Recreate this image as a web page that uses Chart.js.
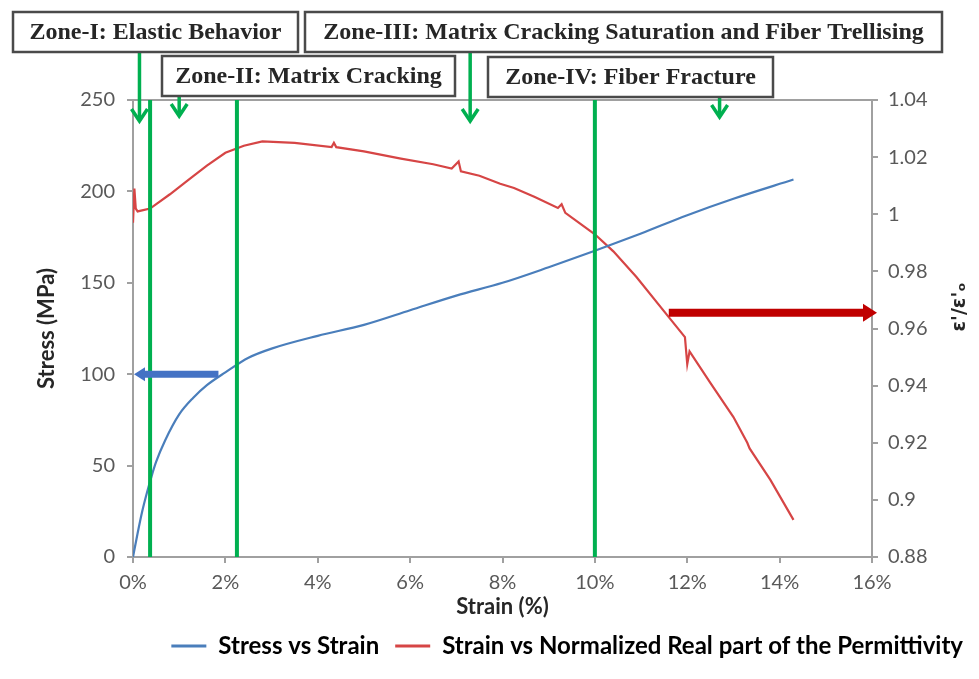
<!DOCTYPE html>
<html><head><meta charset="utf-8">
<script src="https://cdn.jsdelivr.net/npm/chart.js@4.4.0/dist/chart.umd.min.js"></script>
<style>html,body{margin:0;padding:0;background:#fff;}</style>
</head><body>
<canvas id="c" width="979" height="679" style="width:979px;height:679px;display:block"></canvas>
<script>
// ---- data ----
const stressStrain = [0, 0.1, 0.2, 0.3, 0.4, 0.5, 0.7, 1.0, 1.3, 1.6, 2.0, 2.5, 3.0, 4.0, 5.0, 6.0, 7.0, 8.0, 9.0, 10.0, 11.0, 12.0, 13.0, 14.3];
const stressValues = [0, 13, 25, 35, 44, 52, 64, 78, 87, 94, 101, 109, 114, 121, 127, 135, 143, 150, 158.5, 167.5, 177, 187, 196, 206.5];
const permStrain = [0, 0.03, 0.06, 0.1, 0.37, 0.8, 1.2, 1.6, 2.0, 2.4, 2.8, 3.5, 4.3, 4.35, 4.4, 5.0, 5.8, 6.5, 6.9, 7.05, 7.1, 7.5, 7.95, 8.25, 8.7, 9.2, 9.28, 9.36, 10.0, 10.4, 10.9, 11.6, 11.95, 12.0, 12.05, 12.5, 13.0, 13.3, 13.35, 13.8, 14.3];
const permValues = [0.997, 1.009, 1.002, 1.001, 1.002, 1.007, 1.012, 1.017, 1.0215, 1.024, 1.0255, 1.025, 1.0235, 1.025, 1.0235, 1.022, 1.0195, 1.0175, 1.016, 1.0185, 1.015, 1.0135, 1.0107, 1.0092, 1.006, 1.0022, 1.0035, 1.0005, 0.993, 0.987, 0.978, 0.964, 0.957, 0.9475, 0.952, 0.941, 0.929, 0.920, 0.918, 0.907, 0.893];
const seriesNames = ['Stress vs Strain', 'Strain vs Normalized Real part of the Permittivity'];
const xTickValues = [0, 2, 4, 6, 8, 10, 12, 14, 16];
const stressTickValues = [0, 50, 100, 150, 200, 250];
const permTickValues = [0.88, 0.9, 0.92, 0.94, 0.96, 0.98, 1, 1.02, 1.04];
const zoneBoundaries = [0.37, 2.25, 10.0];
const zoneLabels = ['Zone-I: Elastic Behavior', 'Zone-II: Matrix Cracking', 'Zone-III: Matrix Cracking Saturation and Fiber Trellising', 'Zone-IV: Fiber Fracture'];
const zoneArrowStrain = [0.14, 1.0, 7.3, 12.7];
const stressArrow = {value: 100, from: 0, to: 1.85};
const permArrow = {value: 0.9655, from: 11.6};
const rightAxisTitle = 'ε\'/ε\'ₒ';

// ---- layout (pixels) ----
const zoneBoxes = [[13, 12, 285, 40], [162, 56, 293, 40], [305, 12, 637, 40], [488, 57, 285, 40]];
const zoneArrowY = [[53, 121], [97, 116], [53, 121], [97, 117]];
const GREEN = '#00b050';
const AXIS = '#a0a0a0';
const TICKC = '#595959';

function vArrow(ctx, x, y0, y1) {
  ctx.beginPath(); ctx.moveTo(x, y0); ctx.lineTo(x, y1 - 2); ctx.stroke();
  ctx.beginPath(); ctx.moveTo(x - 8, y1 - 12); ctx.lineTo(x, y1); ctx.lineTo(x + 8, y1 - 12); ctx.stroke();
}

const zonePlugin = {
  id: 'zones',
  afterDatasetsDraw(chart) {
    const {ctx, chartArea: a, scales} = chart;
    const x = scales.x, y = scales.y, y1 = scales.y1;
    ctx.save();
    ctx.strokeStyle = AXIS; ctx.lineWidth = 2;
    ctx.beginPath(); ctx.moveTo(a.left, a.top); ctx.lineTo(a.right, a.top); ctx.stroke();
    ctx.strokeStyle = GREEN; ctx.lineWidth = 4;
    zoneBoundaries.forEach(v => {
      const px = x.getPixelForValue(v);
      ctx.beginPath(); ctx.moveTo(px, a.top); ctx.lineTo(px, a.bottom); ctx.stroke();
    });
    // blue arrow
    const by = y.getPixelForValue(stressArrow.value);
    const bx0 = x.getPixelForValue(stressArrow.from), bx1 = x.getPixelForValue(stressArrow.to);
    ctx.strokeStyle = '#4472c4'; ctx.fillStyle = '#4472c4'; ctx.lineWidth = 7;
    ctx.beginPath(); ctx.moveTo(bx0 + 8, by); ctx.lineTo(bx1, by); ctx.stroke();
    ctx.beginPath(); ctx.moveTo(bx0 + 1, by); ctx.lineTo(bx0 + 12, by - 7); ctx.lineTo(bx0 + 12, by + 7); ctx.closePath(); ctx.fill();
    // red arrow
    const ry = y1.getPixelForValue(permArrow.value);
    const rx0 = x.getPixelForValue(permArrow.from), rx1 = a.right + 5;
    ctx.strokeStyle = '#c00000'; ctx.fillStyle = '#c00000'; ctx.lineWidth = 8;
    ctx.beginPath(); ctx.moveTo(rx0, ry); ctx.lineTo(rx1 - 10, ry); ctx.stroke();
    ctx.beginPath(); ctx.moveTo(rx1, ry); ctx.lineTo(rx1 - 14, ry - 9); ctx.lineTo(rx1 - 14, ry + 9); ctx.closePath(); ctx.fill();
    ctx.restore();
  },
  afterDraw(chart) {
    const {ctx, scales} = chart;
    const x = scales.x, y1 = scales.y1;
    ctx.save();
    // right axis title, reading bottom to top
    ctx.save();
    ctx.translate(y1.right - 19, 307);
    ctx.rotate(-Math.PI / 2);
    ctx.font = 'bold 19px "DejaVu Sans", sans-serif';
    ctx.fillStyle = '#262626'; ctx.textAlign = 'center'; ctx.textBaseline = 'middle';
    ctx.fillText(rightAxisTitle, 0, 0);
    ctx.restore();
    // green arrows
    ctx.strokeStyle = GREEN; ctx.lineWidth = 3.5; ctx.lineCap = 'butt';
    zoneArrowStrain.forEach((s, i) => vArrow(ctx, x.getPixelForValue(s), zoneArrowY[i][0], zoneArrowY[i][1]));
    // boxes
    ctx.font = 'bold 24px "Liberation Serif", "Times New Roman", serif';
    ctx.textAlign = 'center'; ctx.textBaseline = 'middle';
    zoneBoxes.forEach((b, i) => {
      ctx.fillStyle = '#fff'; ctx.fillRect(b[0], b[1], b[2], b[3]);
      ctx.strokeStyle = '#4a4a4a'; ctx.lineWidth = 2.5; ctx.strokeRect(b[0], b[1], b[2], b[3]);
      ctx.fillStyle = '#262626';
      ctx.fillText(zoneLabels[i], b[0] + b[2] / 2, b[1] + b[3] / 2 + 1);
    });
    ctx.restore();
  }
};

const tickFont = {family: 'Lato, "Open Sans", sans-serif', size: 20};
const titleFont = {family: 'Lato, "Open Sans", sans-serif', size: 22, weight: 'bold'};

new Chart(document.getElementById('c'), {
  type: 'scatter',
  data: {
    datasets: [
      {label: seriesNames[0], data: stressStrain.map((s, i) => ({x: s, y: stressValues[i]})), yAxisID: 'y',
       showLine: true, borderColor: '#4a7ebb', backgroundColor: '#4a7ebb', borderWidth: 2.2, pointRadius: 0,
       tension: 0.4, cubicInterpolationMode: 'monotone'},
      {label: seriesNames[1], data: permStrain.map((s, i) => ({x: s, y: permValues[i]})), yAxisID: 'y1',
       showLine: true, borderColor: '#d64545', backgroundColor: '#d64545', borderWidth: 2.2, pointRadius: 0, tension: 0}
    ]
  },
  options: {
    responsive: false, animation: false, devicePixelRatio: 1,
    layout: {padding: {top: 100, left: 0, right: 0, bottom: 11}},
    plugins: {
      tooltip: {enabled: false},
      legend: {
        position: 'bottom', align: 'end',
        labels: {
          boxWidth: 35, boxHeight: 3, padding: 16, color: '#262626',
          font: {family: 'Lato, "Open Sans", sans-serif', size: 24, weight: 'bold'},
          generateLabels(chart) {
            return chart.data.datasets.map((d, i) => ({text: d.label, fillStyle: d.borderColor, strokeStyle: d.borderColor, lineWidth: 0, datasetIndex: i, hidden: false}));
          }
        }
      }
    },
    scales: {
      x: {
        type: 'linear', min: 0, max: 16,
        afterBuildTicks(s) { s.ticks = xTickValues.map(v => ({value: v})); },
        afterFit(s) { s.height = 61; },
        ticks: {callback: v => v + '%', color: TICKC, font: tickFont, padding: 8, maxRotation: 0},
        grid: {drawOnChartArea: false, drawTicks: true, tickLength: 6, color: AXIS, lineWidth: 2},
        border: {color: AXIS, width: 2},
        title: {display: true, text: 'Strain (%)', color: '#262626', font: titleFont, padding: {top: 0, bottom: -2}}
      },
      y: {
        type: 'linear', position: 'left', min: 0, max: 250,
        afterBuildTicks(s) { s.ticks = stressTickValues.map(v => ({value: v})); },
        afterFit(s) { s.width = 133; },
        ticks: {color: TICKC, font: tickFont, padding: 12},
        grid: {drawOnChartArea: false, drawTicks: true, tickLength: 6, color: AXIS, lineWidth: 2},
        border: {color: AXIS, width: 2},
        title: {display: true, text: 'Stress (MPa)', color: '#262626', font: titleFont, padding: {top: 34, bottom: 0}}
      },
      y1: {
        type: 'linear', position: 'right', min: 0.88, max: 1.04,
        afterBuildTicks(s) { s.ticks = permTickValues.map(v => ({value: v})); },
        afterFit(s) { s.width = 107; },
        ticks: {color: TICKC, font: tickFont, padding: 10, callback: v => String(parseFloat(Number(v).toFixed(2)))},
        grid: {drawOnChartArea: false, drawTicks: true, tickLength: 6, color: AXIS, lineWidth: 2},
        border: {color: AXIS, width: 2},
        title: {display: false, text: rightAxisTitle}
      }
    }
  },
  plugins: [zonePlugin]
});
</script>
</body></html>
